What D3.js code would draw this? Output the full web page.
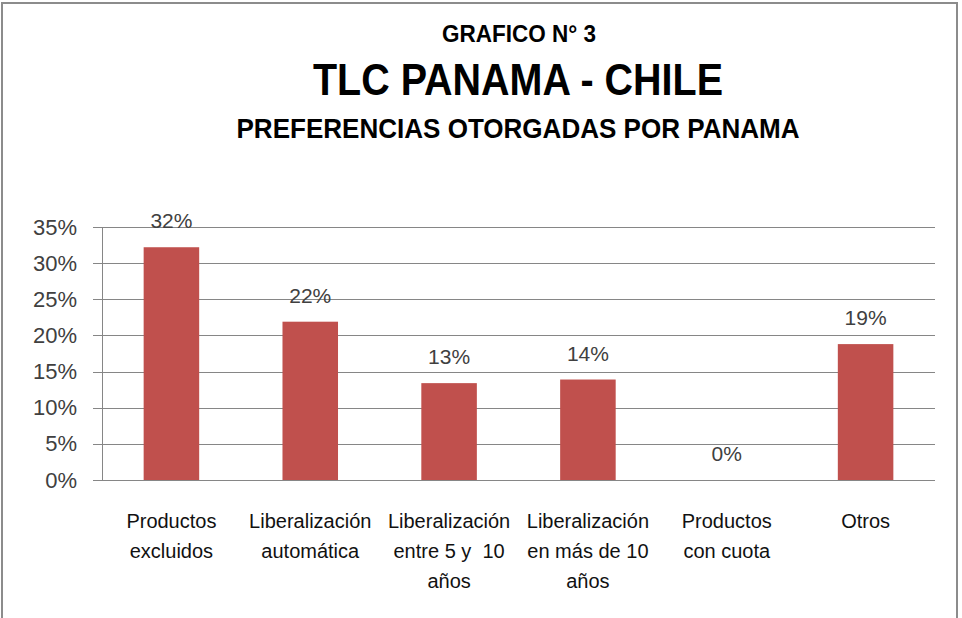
<!DOCTYPE html>
<html>
<head>
<meta charset="utf-8">
<title>TLC Panama - Chile</title>
<script src="https://cdn.jsdelivr.net/npm/d3@7"></script>
<style>
  body { margin: 0; background: #fff; }
  text { font-family: "Liberation Sans Narrow", "Liberation Sans", sans-serif; }
  .grid line { stroke: #868686; stroke-width: 1; shape-rendering: crispEdges; }
  .grid path { display: none; }
  .yaxis text { font-size: 22px; fill: #404040; }
  .cat { font-size: 20px; fill: #111; }
  .lbl { font-size: 21px; fill: #404040; }
  .title { font-weight: bold; fill: #000; }
</style>
</head>
<body>
<script>
// datos del grafico
var categories = [
  ["Productos", "excluidos"],
  ["Liberalización", "automática"],
  ["Liberalización", "entre 5 y  10", "años"],
  ["Liberalización", "en más de 10", "años"],
  ["Productos", "con cuota"],
  ["Otros"]
];
var values = [0.322, 0.219, 0.134, 0.139, 0, 0.188];
var valueLabels = ["32%", "22%", "13%", "14%", "0%", "19%"];
var yTicks = [0, 0.05, 0.10, 0.15, 0.20, 0.25, 0.30, 0.35];

var width = 962, height = 618;
var plotLeft = 102, plotRight = 935, plotTop = 227, plotBottom = 480;

var svg = d3.select("body").append("svg")
  .attr("width", width)
  .attr("height", height);

// marco
svg.append("rect")
  .attr("x", 2).attr("y", 3)
  .attr("width", 955).attr("height", 640)
  .attr("fill", "none")
  .attr("stroke", "#8c8c8c")
  .attr("stroke-width", 2);

// titulos
svg.append("text").attr("class", "title")
  .attr("x", 519).attr("y", 42)
  .attr("text-anchor", "middle")
  .attr("font-size", "23px")
  .attr("textLength", 154).attr("lengthAdjust", "spacingAndGlyphs")
  .text("GRAFICO N° 3");
svg.append("text").attr("class", "title")
  .attr("x", 518).attr("y", 95)
  .attr("text-anchor", "middle")
  .attr("font-size", "45px")
  .attr("textLength", 410).attr("lengthAdjust", "spacingAndGlyphs")
  .text("TLC PANAMA - CHILE");
svg.append("text").attr("class", "title")
  .attr("x", 518).attr("y", 138)
  .attr("text-anchor", "middle")
  .attr("font-size", "28px")
  .attr("textLength", 563).attr("lengthAdjust", "spacingAndGlyphs")
  .text("PREFERENCIAS OTORGADAS POR PANAMA");

var x = d3.scaleBand()
  .domain(d3.range(categories.length))
  .range([plotLeft, plotRight])
  .paddingInner(0.6)
  .paddingOuter(0.3);

var y = d3.scaleLinear()
  .domain([0, 0.35])
  .range([plotBottom, plotTop]);

// lineas de cuadricula
var yAxis = d3.axisLeft(y)
  .tickValues(yTicks)
  .tickSize(-(plotRight - plotLeft))
  .tickPadding(25)
  .tickFormat(d3.format(".0%"));

var g = svg.append("g")
  .attr("class", "grid yaxis")
  .attr("transform", "translate(" + plotRight + ",0)");
g.call(yAxis);
g.selectAll(".tick line")
  .attr("x1", 0)
  .attr("x2", -(plotRight - plotLeft) - 9);
g.selectAll(".tick text")
  .attr("x", -(plotRight - plotLeft) - 25);

// eje vertical
svg.append("line")
  .attr("x1", plotLeft + 0.5).attr("x2", plotLeft + 0.5)
  .attr("y1", y(0.35)).attr("y2", y(0))
  .attr("stroke", "#868686");

// barras
svg.selectAll("rect.bar")
  .data(values)
  .enter()
  .append("rect")
  .attr("class", "bar")
  .attr("x", function (d, i) { return x(i); })
  .attr("y", function (d) { return y(d); })
  .attr("width", x.bandwidth())
  .attr("height", function (d) { return y(0) - y(d); })
  .attr("fill", "#C0504D");

// etiquetas de valor
svg.selectAll("text.lbl")
  .data(values)
  .enter()
  .append("text")
  .attr("class", "lbl")
  .attr("x", function (d, i) { return x(i) + x.bandwidth() / 2; })
  .attr("y", function (d) { return y(d) - 19; })
  .attr("text-anchor", "middle")
  .text(function (d, i) { return valueLabels[i]; });

// etiquetas de categoria
categories.forEach(function (lines, i) {
  var t = svg.append("text")
    .attr("class", "cat")
    .attr("text-anchor", "middle")
    .attr("x", x(i) + x.bandwidth() / 2)
    .attr("y", 528);
  lines.forEach(function (s, j) {
    t.append("tspan")
      .attr("x", x(i) + x.bandwidth() / 2)
      .attr("dy", j == 0 ? 0 : 30)
      .style("white-space", "pre")
      .text(s);
  });
});
</script>
</body>
</html>
